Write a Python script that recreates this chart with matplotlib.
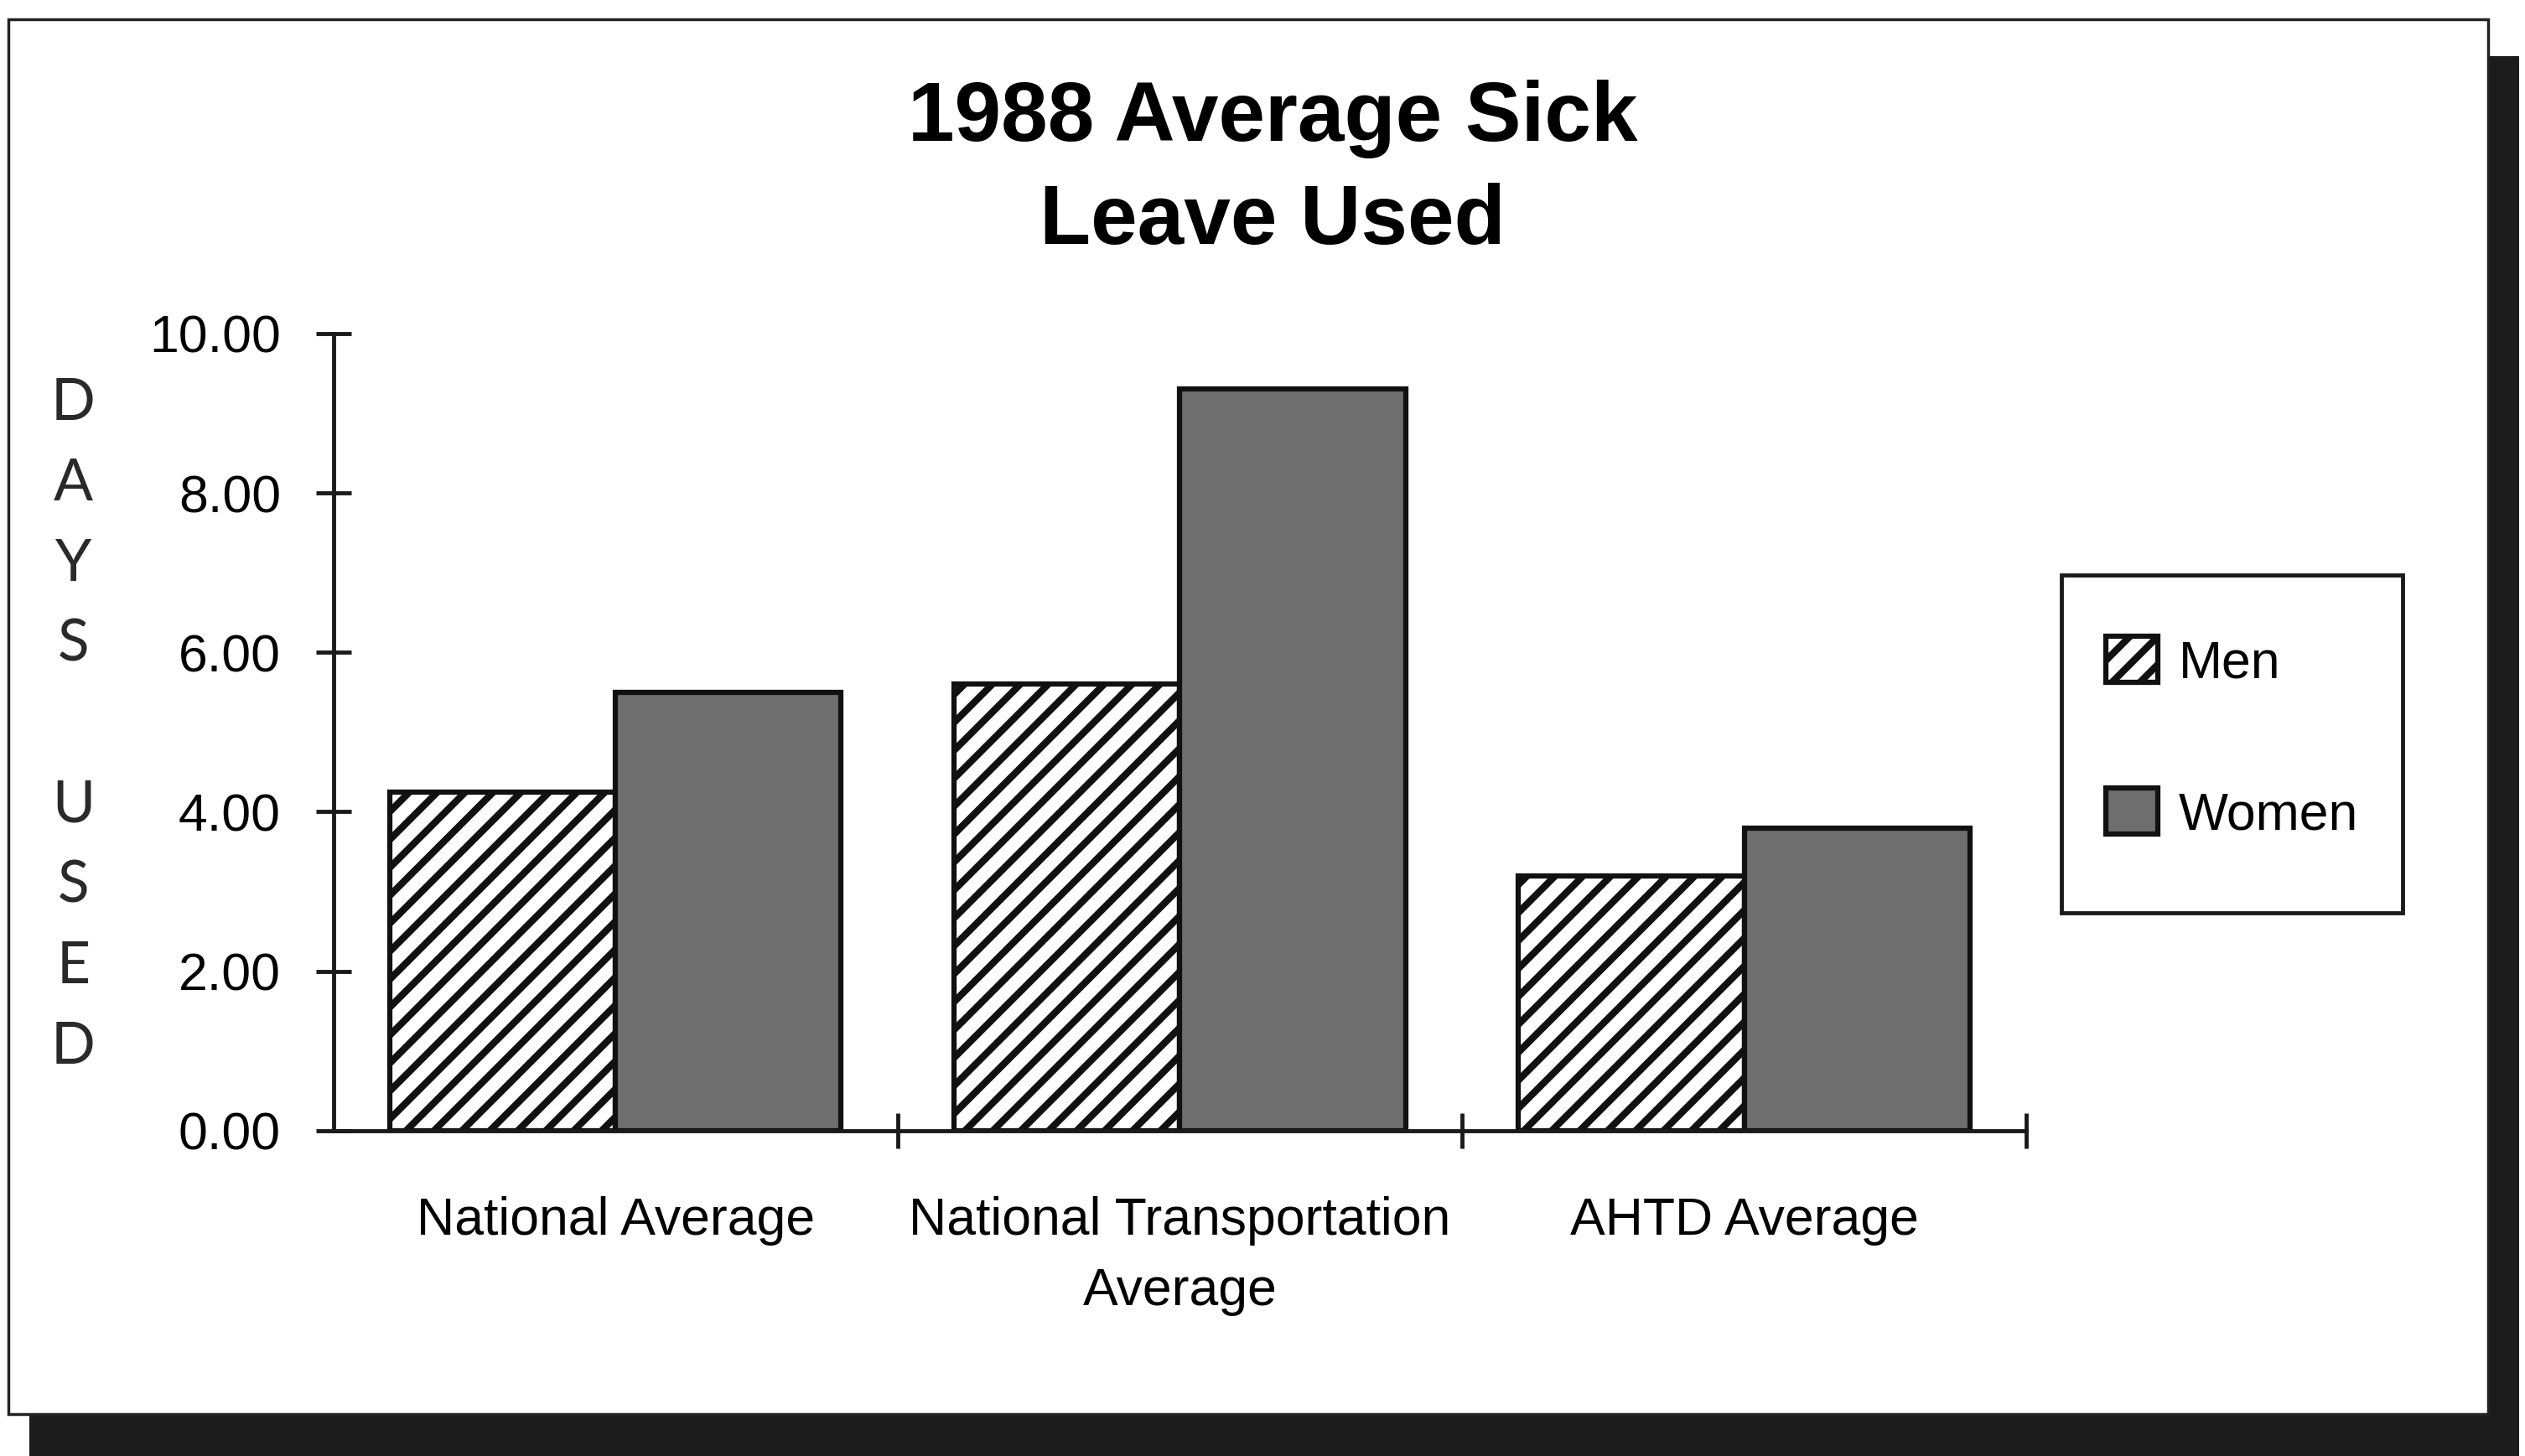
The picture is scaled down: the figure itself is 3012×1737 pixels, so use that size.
import matplotlib
matplotlib.use("Agg")
import matplotlib.pyplot as plt
from matplotlib.patches import Patch, Rectangle

# データ
categories = ["National Average", "National Transportation\nAverage", "AHTD Average"]
men = [4.25, 5.6, 3.2]
women = [5.5, 9.3, 3.8]
yticks = [0, 2, 4, 6, 8, 10]
ylabel_letters = ["D", "A", "Y", "S", "", "U", "S", "E", "D"]

FONT = "Liberation Sans"
FS = 45

plt.rcParams["hatch.linewidth"] = 6
plt.rcParams["hatch.color"] = "black"

MEN_STYLE = dict(facecolor="white", hatch="/", edgecolor="#111111", linewidth=4.5)
WOMEN_STYLE = dict(facecolor="#6e6e6e", edgecolor="#111111", linewidth=4.5)

fig = plt.figure(figsize=(30.12, 17.37), dpi=100)

# 枠と影
fig.add_artist(Rectangle((0.0116, 0.0), 0.986, 0.9614, transform=fig.transFigure,
                         facecolor="#1c1c1c", edgecolor="none", zorder=-3))
fig.add_artist(Rectangle((0.0033, 0.0288), 0.982, 0.958, transform=fig.transFigure,
                         facecolor="white", edgecolor="#222222", linewidth=2.5, zorder=-2))

ax = fig.add_axes([0.132, 0.2234, 0.6705, 0.5476])
ax.patch.set_alpha(0)

x = list(range(len(categories)))
w = 0.4
ax.bar([i - w / 2 for i in x], men, width=w, **MEN_STYLE)
ax.bar([i + w / 2 for i in x], women, width=w, **WOMEN_STYLE)

ax.set_xlim(-0.5, len(categories) - 0.5)
ax.set_ylim(0, 10)

for s in ["top", "right"]:
    ax.spines[s].set_visible(False)
for s in ["left", "bottom"]:
    ax.spines[s].set_linewidth(3.5)
    ax.spines[s].set_color("#1a1a1a")

ax.set_yticks(yticks)
ax.set_yticklabels([f"{v:.2f}" for v in yticks], family=FONT, fontsize=FS)
ax.tick_params(axis="y", direction="inout", length=30, width=3.5, pad=30, color="#1a1a1a")

# カテゴリ境界に目盛、中央にラベル
ax.set_xticks([i + 0.5 for i in x])
ax.set_xticklabels([])
ax.tick_params(axis="x", which="major", direction="inout", length=30, width=3.5, color="#1a1a1a")
ax.set_xticks(x, minor=True)
ax.set_xticklabels(categories, minor=True, family=FONT, fontsize=FS, linespacing=1.55)
ax.tick_params(axis="x", which="minor", length=0, pad=56)

# タイトル
fig.text(0.504, 0.883, "1988 Average Sick\nLeave Used", ha="center", va="center",
         family=FONT, fontweight="bold", fontsize=72, linespacing=1.4)

# 縦書きの軸ラベル
for k, ch in enumerate(ylabel_letters):
    fig.text(0.029, 0.723 - k * 0.0553, ch, ha="center", va="center",
             family=["Lato", "DejaVu Sans"], fontsize=50, color="#2a2a2a")

# 凡例（枠は手描き）
fig.add_artist(Rectangle((0.8163, 0.3728), 0.1352, 0.2323, transform=fig.transFigure,
                         facecolor="white", edgecolor="#1a1a1a", linewidth=3.5, zorder=1))
handles = [Patch(label="Men", **MEN_STYLE), Patch(label="Women", **WOMEN_STYLE)]
leg = fig.legend(handles=handles, loc="center", bbox_to_anchor=(0.884, 0.493),
                 prop={"family": FONT, "size": FS}, frameon=False,
                 handlelength=0.98, handleheight=0.98, handletextpad=0.4,
                 labelspacing=1.9, borderpad=0, borderaxespad=0)
leg.set_zorder(2)

fig.savefig("out.png", dpi=100)
